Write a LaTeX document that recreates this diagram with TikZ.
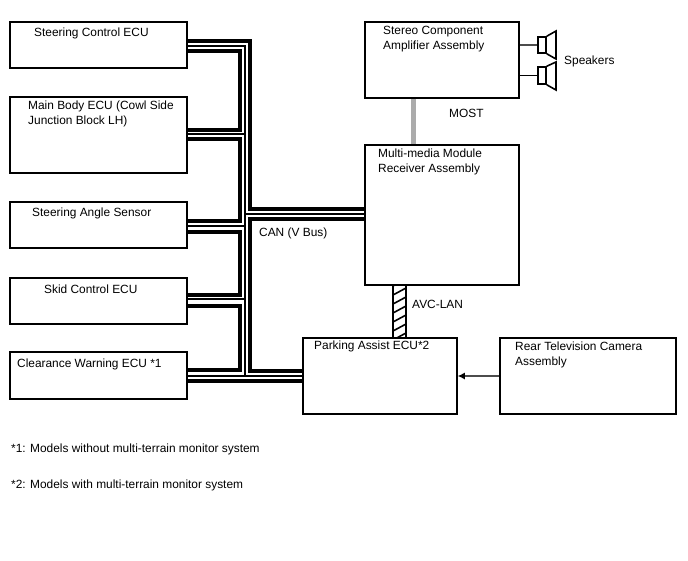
\documentclass[tikz,border=0pt]{standalone}
\usepackage{fontspec}
\setmainfont{Liberation Sans}
\usetikzlibrary{arrows.meta}
\begin{document}
\begin{tikzpicture}[x=1pt, y=-1pt,
                    rect/.style={draw, rectangle, line width=1.6pt, inner sep=0mm},
                    txt/.style={anchor=west, align=left, inner sep=0, font=\fontsize{11.9}{15}\selectfont},
                    thick_bus/.style={draw, line width=3.5pt, line join=miter},
                    thin_bus/.style={draw, line width=1.4pt},
                    arrow/.style={draw, -{Latex[length=7pt,width=7pt,black]}, line width=1.1pt, black!70},
                    most/.style={draw, line width=5pt, black!33},
                    cone/.style={draw, line width=1.6pt, line join=miter}]
  \useasboundingbox (0,0) rectangle (688,560);
  \node(steer_ctl)[rect, minimum width=177, minimum height=46] at (98.5,45){};
  \node(main_body)[rect, minimum width=177, minimum height=76] at (98.5,135){};
  \node(steer_ang)[rect, minimum width=177, minimum height=46] at (98.5,225){};
  \node(skid)[rect, minimum width=177, minimum height=46] at (98.5,301){};
  \node(clearance)[rect, minimum width=177, minimum height=47] at (98.5,375.5){};
  \node(stereo)[rect, minimum width=154, minimum height=76] at (442,60){};
  \node(multi)[rect, minimum width=154, minimum height=140] at (442,215){};
  \node(parking)[rect, minimum width=154, minimum height=76] at (380,376){};
  \node(rear)[rect, minimum width=176, minimum height=76] at (588,376){};

  \node(steer_ctl_t)[txt] at (34,33){Steering Control ECU};
  \node(main_body_t)[txt] at (28,114){Main Body ECU (Cowl Side\\Junction Block LH)};
  \node(steer_ang_t)[txt] at (32,213){Steering Angle Sensor};
  \node(skid_t)[txt] at (44,289){Skid Control ECU};
  \node(clearance_t)[txt] at (17,364){Clearance Warning ECU *1};
  \node(stereo_t)[txt] at (383,39.5){Stereo Component\\Amplifier Assembly};
  \node(multi_t)[txt] at (378,161.5){Multi-media Module\\Receiver Assembly};
  \node(parking_t)[txt] at (314,346){Parking Assist ECU*2};
  \node(rear_t)[txt] at (515,355){Rear Television Camera\\Assembly};
  \node(can_t)[txt] at (259,233){CAN (V Bus)};
  \node(most_t)[txt] at (449,113){MOST};
  \node(avc_t)[txt] at (412,304){AVC-LAN};
  \node(spk_t)[txt] at (564,61){Speakers};
  \node(note1)[txt] at (11,449){*1: Models without multi-terrain monitor system};
  \node(note2)[txt] at (11,485){*2: Models with multi-terrain monitor system};

  \coordinate(p_out) at (250,41);
  \coordinate(p_mid) at (245,46);
  \coordinate(p_in) at (240,51);
  \coordinate(p_low) at (250,371);

  \draw[thick_bus] (steer_ctl.east |- p_out) -- (p_out) |- (multi.west |- 0,209);
  \draw[thick_bus] (parking.west |- p_low) -- (p_low) |- (multi.west |- 0,219);
  \draw[thin_bus] (steer_ctl.east |- p_mid) -- (p_mid) -- (p_mid |- 0,375);
  \draw[thin_bus] (p_mid |- 0,214) -- (multi.west |- 0,214);
  \draw[thin_bus] (main_body.east |- 0,134) -- (p_mid |- 0,134);
  \draw[thin_bus] (main_body.east |- 0,226) -- (p_mid |- 0,226);
  \draw[thin_bus] (skid.east |- 0,299) -- (p_mid |- 0,299);
  \draw[thin_bus] (clearance.east |- 0,376) -- (parking.west |- 0,376);
  \draw[thick_bus] (steer_ctl.east |- p_in) -- (p_in) |- (main_body.east |- 0,130);
  \draw[thick_bus] (main_body.east |- 0,139) -- (p_in |- 0,139) |- (steer_ang.east |- 0,221);
  \draw[thick_bus] (steer_ang.east |- 0,232) -- (p_in |- 0,232) |- (skid.east |- 0,295);
  \draw[thick_bus] (skid.east |- 0,306) -- (p_in |- 0,306) |- (clearance.east |- 0,370);
  \draw[thick_bus] (clearance.east |- 0,381) -- (parking.west |- 0,381);

  \draw[most] (stereo.south -| 413,0) -- (multi.north -| 413,0);

  \begin{scope}
    \clip (393,285) rectangle (406,338);
    \foreach \y in {286,295,...,349}
      \draw[line width=1.6pt] (393,\y) -- (406,\y-7);
  \end{scope}
  \draw[line width=1.6pt] (multi.south -| 393,0) -- (parking.north -| 393,0);
  \draw[line width=1.6pt] (multi.south -| 406,0) -- (parking.north -| 406,0);

  \draw[arrow] (rear.west) -- (parking.east);

  \node(spk_a)[rect, minimum width=8, minimum height=16] at (542,45){};
  \node(spk_b)[rect, minimum width=8, minimum height=17] at (542,75.5){};
  \draw[cone] (spk_a.north east) -- (556,31) -- (556,59) -- (spk_a.south east);
  \draw[cone] (spk_b.north east) -- (556,62) -- (556,90) -- (spk_b.south east);
  \draw[line width=1.3pt, black!70] (stereo.east |- spk_a) -- (spk_a);
  \draw[line width=1.3pt] (stereo.east |- spk_b) -- (spk_b);
\end{tikzpicture}
\end{document}
